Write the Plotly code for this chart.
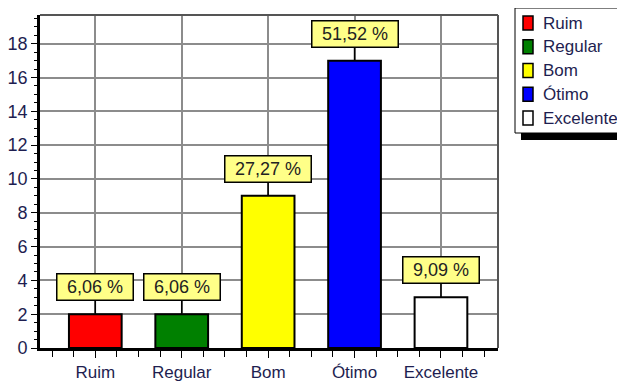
import plotly.graph_objects as go

categories = ["Ruim", "Regular", "Bom", "Ótimo", "Excelente"]
counts = [2, 2, 9, 17, 3]
percent_labels = ["6,06 %", "6,06 %", "27,27 %", "51,52 %", "9,09 %"]
bar_colors = ["#ff0000", "#008000", "#ffff00", "#0000ff", "#ffffff"]
y_ticks = [0, 2, 4, 6, 8, 10, 12, 14, 16, 18]

FONT = "Liberation Sans, Arial, sans-serif"
TXT = "#1e1e50"
FS = 18

# page body adds an 8px offset; figure is sized to fill the rest of the window
W, H = 617, 377
ML, MR, MT, MB = 32, 127, 7, 37
PW, PH = W - ML - MR, H - MT - MB


def px2x(px):
    """window pixel x -> paper fraction"""
    return (px - 8 - ML) / PW


def py2y(py):
    """window pixel y -> paper fraction"""
    return (H - MB + 8 - py) / PH


fig = go.Figure()
for i, (cat, val, col) in enumerate(zip(categories, counts, bar_colors)):
    fig.add_trace(go.Bar(
        x=[i], y=[val], name=cat, width=0.61,
        marker=dict(color=col, line=dict(color="black", width=2)),
        hoverinfo="skip", showlegend=False,
    ))

annotations = []
for i, (val, lab) in enumerate(zip(counts, percent_labels)):
    annotations.append(dict(
        x=i, y=val, xref="x", yref="y", text=lab,
        showarrow=True, arrowhead=0, arrowwidth=1.5, arrowcolor="black",
        ax=0, ay=-27, standoff=0,
        bgcolor="#ffff88", bordercolor="black", borderwidth=1.5, borderpad=2,
        width=10 * len(lab) + 11, height=21,
        font=dict(family=FONT, size=FS, color="#222222"),
    ))

shapes = [
    # top and right frame
    dict(type="line", xref="paper", yref="paper", x0=0, x1=1, y0=1, y1=1,
         line=dict(color="#555555", width=2), layer="above"),
    dict(type="line", xref="paper", yref="paper", x0=1, x1=1, y0=0, y1=1,
         line=dict(color="#555555", width=2), layer="above"),
    # legend shadow
    dict(type="rect", xref="paper", yref="paper", x0=px2x(521), x1=px2x(632),
         y0=py2y(140), y1=py2y(14), fillcolor="black", line=dict(width=0), layer="above"),
    # legend box
    dict(type="rect", xref="paper", yref="paper", x0=px2x(515), x1=px2x(624),
         y0=py2y(133), y1=py2y(8), fillcolor="white",
         line=dict(color="black", width=1), layer="above"),
]

# custom legend entries
for k, (cat, col) in enumerate(zip(categories, bar_colors)):
    cy = 23 + k * 23.75
    shapes.append(dict(
        type="rect", xref="paper", yref="paper",
        x0=px2x(523), x1=px2x(533), y0=py2y(cy + 7), y1=py2y(cy - 7),
        fillcolor=col, line=dict(color="black", width=1.5), layer="above",
    ))
    annotations.append(dict(
        x=px2x(541), y=py2y(cy), xref="paper", yref="paper",
        xanchor="left", yanchor="middle", showarrow=False, text=cat,
        font=dict(family=FONT, size=FS - 1, color=TXT),
    ))

fig.update_layout(
    width=W, height=H,
    margin=dict(l=ML, r=MR, t=MT, b=MB, autoexpand=False),
    paper_bgcolor="white", plot_bgcolor="white",
    barmode="overlay",
    font=dict(family=FONT, size=FS, color=TXT),
    annotations=annotations,
    shapes=shapes,
    showlegend=False,
    xaxis=dict(
        range=[-0.64, 4.66], tickmode="array", automargin=False,
        tickvals=list(range(len(categories))), ticktext=categories,
        ticks="outside", ticklen=7, tickcolor="black", tickwidth=1,
        showgrid=True, gridcolor="#8c8c8c", gridwidth=1.5,
        showline=True, linecolor="black", linewidth=3, zeroline=False,
        minor=dict(tickmode="linear", tick0=0, dtick=0.25, ticks="outside",
                   ticklen=6, tickcolor="black", tickwidth=1, showgrid=False),
        tickfont=dict(family=FONT, size=FS - 1, color=TXT),
    ),
    yaxis=dict(
        range=[0, 19.7], tickmode="array", tickvals=y_ticks, automargin=False,
        ticks="outside", ticklen=6, tickcolor="black", tickwidth=1,
        showgrid=True, gridcolor="#8c8c8c", gridwidth=1.5,
        showline=True, linecolor="black", linewidth=3, zeroline=False,
        minor=dict(tickmode="linear", tick0=0, dtick=0.5, ticks="outside",
                   ticklen=3, tickcolor="black", tickwidth=1, showgrid=False),
        tickfont=dict(family=FONT, size=FS, color=TXT),
    ),
)

fig.write_html("out.html")
